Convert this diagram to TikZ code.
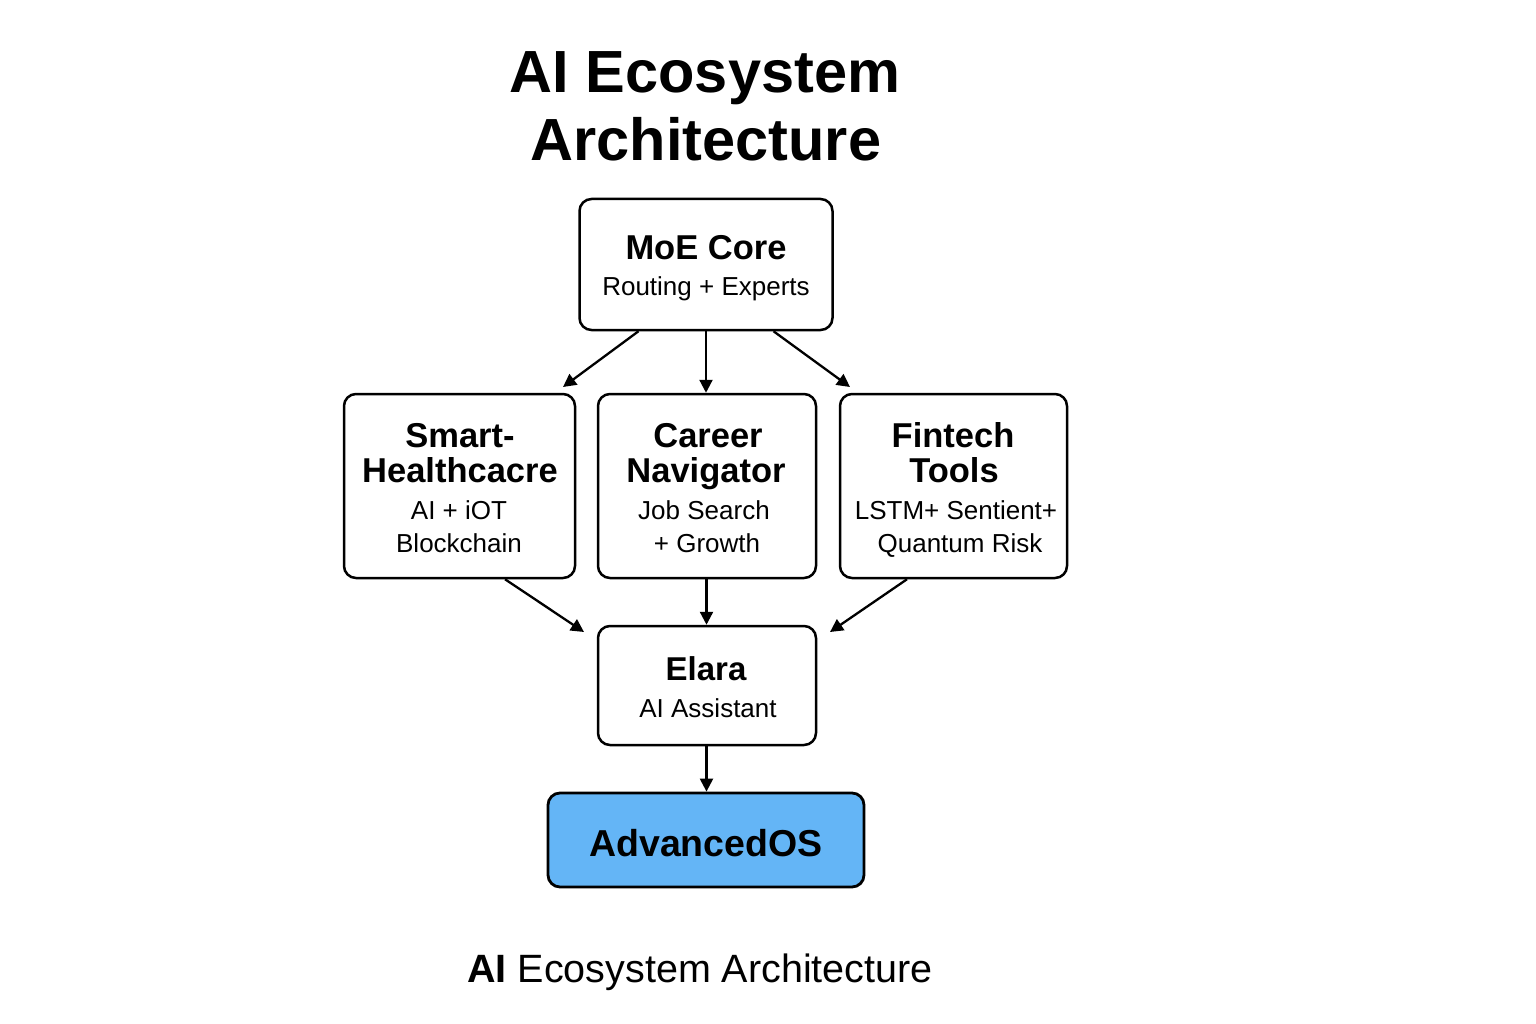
\documentclass[tikz,border=0pt]{standalone}
\usepackage{fontspec}
\setmainfont{Liberation Sans}
\usetikzlibrary{arrows.meta}
\definecolor{osblue}{HTML}{64B5F6}
\begin{document}
\begin{tikzpicture}[x=1pt,y=-1pt,
  box/.style={draw=black, line width=2.5pt, rounded corners=12pt, fill=white, inner sep=0pt},
  head/.style={font=\fontsize{34.5}{40}\selectfont\bfseries, anchor=base, inner sep=0pt},
  sub/.style={font=\fontsize{26}{30}\selectfont, anchor=base, inner sep=0pt},
  arr/.style={line width=2.3pt, -{Triangle[length=13pt,width=13pt]}}]
\useasboundingbox[fill=white] (0,0) rectangle (1536,1024);

% title
\node[font=\fontsize{59.5}{72}\selectfont\bfseries, anchor=base, inner sep=0pt] (t1) at (705,93) {AI Ecosystem};
\node[font=\fontsize{59.5}{72}\selectfont\bfseries, anchor=base, inner sep=0pt] (t2) at (706,161) {Architecture};

% boxes
\node[box, minimum width=253pt, minimum height=131pt] (moe) at (706,264.5) {};
\node[box, minimum width=231pt, minimum height=184pt] (smart) at (459.5,486) {};
\node[box, minimum width=218pt, minimum height=184pt] (career) at (707,486) {};
\node[box, minimum width=227pt, minimum height=184pt] (fin) at (953.5,486) {};
\node[box, minimum width=218pt, minimum height=119pt] (elara) at (707,685.5) {};
\node[box, fill=osblue, line width=2.8pt, minimum width=316pt, minimum height=94pt] (os) at (706,840) {};

% texts
\node[head] (moeA) at (706,260) {MoE Core};
\node[sub] (moeB) at (706,295) {Routing + Experts};

\node[head] (smA) at (460,447) {Smart-};
\node[head] (smB) at (460,482) {Healthcacre};
\node[sub] (smC) at (459,519) {AI + iOT};
\node[sub] (smD) at (459,552) {Blockchain};

\node[head] (caA) at (708,447) {Career};
\node[head] (caB) at (706,482) {Navigator};
\node[sub] (caC) at (704,519) {Job Search};
\node[sub] (caD) at (707,552) {+ Growth};

\node[head] (fiA) at (953,447) {Fintech};
\node[head] (fiB) at (954,482) {Tools};
\node[sub] (fiC) at (956,519) {LSTM+ Sentient+};
\node[sub] (fiD) at (960,552) {Quantum Risk};

\node[head, font=\fontsize{33}{40}\selectfont\bfseries] (elA) at (706,680) {Elara};
\node[sub] (elB) at (708,717) {AI Assistant};

\node[font=\fontsize{37.5}{44}\selectfont\bfseries, anchor=base, inner sep=0pt] (osA) at (706,856) {AdvancedOS};

\node[font=\fontsize{39.5}{44}\selectfont, anchor=base, inner sep=0pt] (cap) at (700,982) {\textbf{AI} Ecosystem Architecture};

% arrow ends
\coordinate (e1) at (563,387);
\coordinate (e3) at (850,387);
\coordinate (e4) at (584,632);
\coordinate (e6) at (830,632);

\draw[arr] ([xshift=-67.5pt]moe.south) -- (e1);
\draw[arr] (moe.south) -- (moe.south |- career.north);
\draw[arr] ([xshift=67.5pt]moe.south) -- (e3);
\draw[arr] ([xshift=45.5pt]smart.south) -- (e4);
\draw[arr] ([xshift=-0.5pt]career.south) -- ([xshift=-0.5pt]career.south |- elara.north);
\draw[arr] ([xshift=-46.5pt]fin.south) -- (e6);
\draw[arr] ([xshift=-0.5pt]elara.south) -- ([xshift=-0.5pt]elara.south |- os.north);
\end{tikzpicture}
\end{document}
